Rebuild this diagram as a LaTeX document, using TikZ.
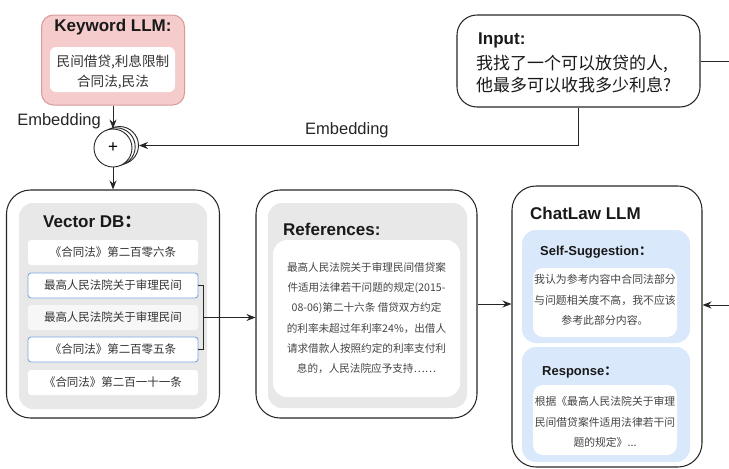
\documentclass[tikz,border=0pt]{standalone}
\usepackage{fontspec}
\setmainfont{Liberation Sans}
\newfontfamily\cjk{Noto Sans CJK SC}
\usetikzlibrary{arrows.meta,calc}

\definecolor{kwfill}{HTML}{F5CBCB}
\definecolor{kwdraw}{HTML}{D89A9A}
\definecolor{panelgray}{HTML}{E8E8E8}
\definecolor{rowalt}{HTML}{F7F7F7}
\definecolor{rowblue}{HTML}{7EA6E0}
\definecolor{panelblue}{HTML}{DAE8FC}
\definecolor{txt}{HTML}{333333}
\definecolor{reftxt}{HTML}{444444}

\tikzset{
  sz/.style 2 args={minimum width=#1pt, minimum height=#2pt},
  box/.style={draw=black!85, line width=1.05pt, fill=white, rounded corners=#1, inner sep=0pt},
  box/.default=22pt,
  panel/.style={fill=#1, rounded corners=14pt, inner sep=0pt},
  card/.style={fill=white, rounded corners=#1, inner sep=0pt},
  card/.default=8pt,
  rowbox/.style={fill=white, rounded corners=3pt, inner sep=0pt, minimum width=170pt, minimum height=25pt},
  bluerow/.style={rowbox, draw=rowblue, line width=0.9pt},
  title/.style={font=\fontsize{17}{20}\selectfont\bfseries, text=black!90, inner sep=0pt},
  subtitle/.style={font=\fontsize{13}{16}\selectfont\bfseries, text=black!90, inner sep=0pt},
  lbl/.style={font=\fontsize{16.5}{20}\selectfont, text=black!85, inner sep=0pt},
  rowtxt/.style={font=\cjk\fontsize{11.5}{14}\selectfont, text=txt, inner sep=0pt},
  para/.style={font=\cjk\fontsize{#1}{20.3}\selectfont, text=reftxt, align=center, inner sep=0pt},
  sum/.style={circle, draw=black!85, line width=0.9pt, fill=white, minimum size=38pt, inner sep=0pt},
  conn/.style={draw=black!85, line width=1pt},
  arr/.style={conn, -{Stealth[length=9pt,width=7pt]}},
}

\begin{document}
\begin{tikzpicture}[x=1pt,y=-1pt]
\useasboundingbox (0,0) rectangle (729,469);

% Keyword LLM
\node[box=12pt, fill=kwfill, draw=kwdraw, line width=1pt, sz={143}{90}] (kw) at (113,60) {};
\node[card=6pt, sz={125}{45}] (kwcard) at (112.5,69.5) {};
\node[title] (kwtitle) at (113,27) {Keyword LLM:};
\node[para=13.6, text=txt] (kwtext) at (113,72) {民间借贷,利息限制\\合同法,民法};

% Input
\node[box=20pt, sz={243}{92}] (input) at (578.5,61) {};
\node[title, anchor=west] (intitle) at (478,40) {Input:};
\node[font=\cjk\fontsize{17}{22}\selectfont, text=black!90, align=left, anchor=west, inner sep=0pt] (intext) at (476,74)
  {我找了一个可以放贷的人,\\他最多可以收我多少利息?};

% summation of embeddings (stacked circles)
\node[sum] (stk2) at (119.5,145.5) {};
\node[sum] (stk1) at (116.2,146.8) {};
\node[sum, font=\fontsize{17}{17}\selectfont] (plus) at (113,148) {+};

% Vector DB
\node[box=24pt, sz={213}{228}] (vdb) at (113,304) {};
\node[panel=panelgray, sz={188}{206}] (vdbpanel) at (113,306) {};
\node[title, anchor=west] (vdbtitle) at (43,222) {Vector DB{\cjk ：}};
\node[rowbox] (r1) at (113,252.5) {};
\node[bluerow] (r2) at (113,285.5) {};
\node[rowbox, fill=rowalt] (r3) at (113,317.5) {};
\node[bluerow] (r4) at (113,349.5) {};
\node[rowbox] (r5) at (113,382.5) {};
\node[rowtxt] at (r1) {《合同法》第二百零六条};
\node[rowtxt] at (r2) {最高人民法院关于审理民间};
\node[rowtxt] at (r3) {最高人民法院关于审理民间};
\node[rowtxt] at (r4) {《合同法》第二百零五条};
\node[rowtxt] at (r5) {《合同法》第二百一十一条};

% References
\node[box=24pt, sz={221}{228}] (ref) at (366.5,304) {};
\node[panel=panelgray, sz={199}{205}] (refpanel) at (367.5,305.5) {};
\node[card=14pt, sz={187}{157}] (refcard) at (366.5,318.5) {};
\node[title, anchor=west] (reftitle) at (283,229) {References:};
\node[para=10.6] (reftext) at (366.5,318) {最高人民法院关于审理民间借贷案\\件适用法律若干问题的规定(2015-\\08-06)第二十六条 借贷双方约定\\的利率未超过年利率24\%，出借人\\请求借款人按照约定的利率支付利\\息的，人民法院应予支持……};

% ChatLaw LLM
\node[box=24pt, sz={190}{281}] (chat) at (607,326.5) {};
\node[title, anchor=west] (chattitle) at (530,213) {ChatLaw LLM};
\node[panel=panelblue, sz={168}{113}] (sspanel) at (606,286.5) {};
\node[card=10pt, sz={144}{69}] (sscard) at (605,302.5) {};
\node[subtitle, anchor=west] (sstitle) at (540,252) {Self-Suggestion{\cjk ：}};
\node[para=10.9] (sstext) at (605,300) {我认为参考内容中合同法部分\\与问题相关度不高，我不应该\\参考此部分内容。};
\node[panel=panelblue, sz={168}{115}] (resppanel) at (606,404.5) {};
\node[card=10pt, sz={144}{70}] (respcard) at (605,420) {};
\node[subtitle, anchor=west] (resptitle) at (542,372) {Response{\cjk ：}};
\node[para=10.8] (resptext) at (605,422) {根据《最高人民法院关于审理\\民间借贷案件适用法律若干问\\题的规定》...};

% connectors
\draw[arr] (kw.south) -- (plus.north);
\node[lbl, anchor=east] (emb1) at (101,121) {Embedding};
\draw[arr] (plus.south) -- (vdb.north);
\coordinate (inR) at (729,61);
\draw[conn] (input.east) -- (inR);
\draw[arr] (input.south) |- (stk2.east);
\node[lbl, anchor=west] (emb2) at (305,130) {Embedding};
\draw[conn, line width=0.8pt] (r2.east) -- ++(5,0) coordinate (b1) |- (r4.east);
\coordinate (bm) at ($(b1)!0.5!(b1 |- r4.east)$);
\draw[arr] (bm) -- (bm -| ref.west);
\draw[arr] (ref.east) -- (ref.east -| chat.west);
\coordinate (chR) at (729,305);
\draw[arr] (chR) -- (chR -| chat.east);
\end{tikzpicture}
\end{document}
